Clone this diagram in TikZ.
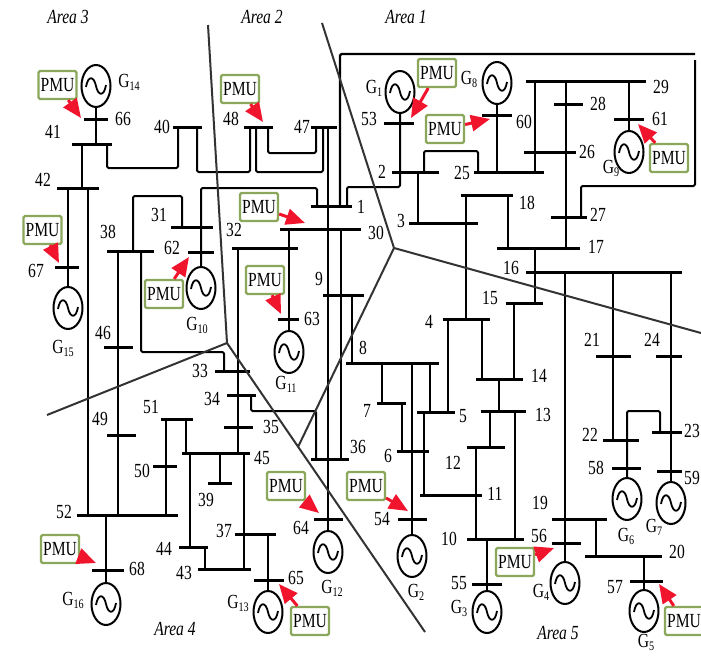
\documentclass[tikz,border=0pt]{standalone}
\usepackage{fontspec}
\setmainfont[FakeStretch=0.78]{Liberation Serif}
\usetikzlibrary{arrows.meta,shapes.geometric}
\definecolor{pmuGreen}{HTML}{8BA75B}
\definecolor{pmuRed}{HTML}{F0142D}
\definecolor{areaGray}{HTML}{333333}
\tikzset{
  bus/.style={fill=black, inner sep=0pt, minimum height=3pt},
  tie/.style={line width=2pt, rounded corners=1.5pt, line join=round},
  area/.style={line width=2pt, draw=areaGray},
  gen/.style={ellipse, draw, line width=2pt, fill=white, inner sep=0pt,
              minimum width=29pt, minimum height=42pt,
              path picture={\draw[line width=1.8pt, shift={(path picture bounding box.center)}]
                (-10,1) .. controls (-8,-11) and (-2,-10) .. (0,0)
                .. controls (2,10) and (8,11) .. (10,-1);}},
  pmu/.style={draw=pmuGreen, line width=2.2pt, rounded corners=1.5pt, fill=white,
              minimum width=38pt, minimum height=28pt, inner sep=0pt, lbl},
  pmuarrow/.style={draw=pmuRed, line width=3pt,
                   -{Triangle[length=19pt, width=16pt, fill=pmuRed]}},
  lbl/.style={font=\fontsize{20}{22}\selectfont, inner sep=0pt},
  arealbl/.style={font=\fontsize{20}{22}\selectfont\itshape, inner sep=0pt},
}
\newcommand{\gname}[1]{G\raisebox{-3pt}{\fontsize{13}{13}\selectfont #1}}

\begin{document}
\begin{tikzpicture}[x=1pt, y=-1pt]
\useasboundingbox (0,0) rectangle (701,656);

%% ── the buses ─────────────────────────────────────────────────────────────
\foreach \n/\xl/\xr/\yb in {
  1/311/352/206, 2/392/439/172, 3/409/478/223, 4/443/490/319, 5/417/455/412,
  6/397/429/451, 7/377/406/403, 8/346/439/363, 9/323/364/295, 10/467/524/539,
  11/420/482/495, 12/467/505/447, 13/481/526/411, 14/476/523/379, 15/506/543/303,
  16/526/682/272, 17/497/580/248, 18/461/513/195, 19/552/607/519, 20/585/662/556,
  21/596/631/356, 22/603/639/440, 23/652/682/432, 24/656/682/356, 25/474/544/172,
  26/524/576/152, 27/551/587/217, 28/554/583/104, 29/526/646/81, 30/280/361/229,
  31/171/213/227, 32/232/298/248, 33/215/250/371, 34/227/256/395, 35/224/253/427,
  36/311/349/459, 37/235/276/534, 38/107/154/251, 39/208/232/483, 40/173/202/127,
  41/72/112/144, 42/57/99/188, 43/198/251/569, 44/179/208/547, 45/182/250/453,
  46/104/133/347, 47/311/337/127, 48/244/273/127, 49/107/136/435, 50/153/177/466,
  51/161/193/419, 52/77/178/515, 53/384/414/123, 54/398/427/519, 55/472/502/584,
  56/552/581/543, 57/630/663/581, 58/612/641/468, 59/657/682/471, 60/482/512/115,
  61/614/644/119, 62/188/214/252, 63/278/299/319, 64/314/343/519, 65/254/284/580,
  66/84/108/119, 67/55/79/267, 68/92/124/570}
  \node[bus, minimum width={(\xr-\xl)*1pt}] (b\n) at ({(\xl+\xr)/2},\yb) {};

%% ── the generators ────────────────────────────────────────────────────────
\foreach \n/\x/\y in {
  1/400/92, 2/412/556, 3/487/612, 4/565/583, 5/644/611, 6/627/499, 7/671/503,
  8/497/83, 9/629/152, 10/201/288, 11/289/352, 12/328/552, 13/268/612,
  14/96/86, 15/68/308, 16/106/604}
  \node[gen] (g\n) at (\x,\y) {};

%% ── straight ties: from bus, to bus, at x ─────────────────────────────────
\foreach \a/\b/\x in {
  41/42/82, 42/52/88, 38/52/118, 30/36/341, 9/8/352, 32/45/238, 2/3/418,
  25/29/535, 29/17/566, 18/4/466, 18/17/508, 17/15/535, 16/22/613, 15/14/514,
  4/14/482, 4/5/448, 14/13/499, 13/12/490, 13/10/515, 12/10/476, 5/11/424,
  8/5/430, 8/7/382, 7/6/402, 19/20/596, 51/52/166, 51/45/186, 45/44/190,
  45/39/220, 45/43/244, 44/43/205}
  \draw[tie] (\x,0 |- b\a) -- (\x,0 |- b\b);

%% ── elbows: from bus at x, turning at y, to bus at x ──────────────────────
\foreach \a/\xa/\ym/\xb/\b in {
  41/107/168/178/40, 40/197/172/250/48, 48/268/153/316/47, 48/256/172/323/47,
  31/182/196/133/38, 38/141/352/224/33, 34/251/411/316/36, 2/424/151/478/25}
  \draw[tie] (\xa,0 |- b\a) |- (\xb,\ym) -- (\xb,0 |- b\b);

%% ── generators down to their buses ────────────────────────────────────────
\foreach \g/\b in {14/41, 8/25}
  \draw[tie] (g\g.south) -- (g\g.south |- b\b);
\foreach \g/\b in {15/42, 11/30, 9/29, 12/47, 13/37, 16/52, 2/8, 3/10, 4/16, 5/20, 7/16}
  \draw[tie] (g\g.north) -- (g\g.north |- b\b);
\draw[tie] (317,0 |- b1) |- (201,188) -- (g10.north);
\draw[tie] (347,0 |- b1) |- (400,187) -- (g1.south);
\draw[tie] (660,0 |- b23) |- (627,411) -- (g6.north);

%% the long loop over area 1
\coordinate (loopA) at (340,54);
\coordinate (loopB) at (695,54);
\coordinate (loopC) at (695,60);
\draw[tie, line width=2.4pt] (340,0 |- b1) -- (loopA) -- (loopB);
\draw[tie] (loopC) |- (581,186) -- (581,0 |- b27);

%% ── area borders ──────────────────────────────────────────────────────────
\coordinate (west) at (227,343);
\coordinate (east) at (394,248);
\draw[area] (208,25) -- (west) -- (47,415);
\draw[area] (west) -- (425,632);
\draw[area] (322,23) -- (east) -- (701,333);
\draw[area] (east) -- (298,447);

%% ── PMUs and their arrows ─────────────────────────────────────────────────
\foreach \n/\x/\y/\tx/\ty in {
  14/57.5/85/81/118, 48/240/89/263/122, 30/259/207/305/223, 67/42.5/230/59/263,
  62/164/294/189/257, 63/265/280/281/314, 1/437/73/411/118, 8/445/129/490/119,
  9/669/158/638/124, 64/286/486/319/513, 68/60/549/96/563, 65/310/621/279/584,
  54/366/486/408/511, 56/515/562/554/548, 57/684/621/659/584}{
  \node[pmu] (pmu\n) at (\x,\y) {PMU};
  \coordinate (tip\n) at (\tx,\ty);
  \draw[pmuarrow] (pmu\n) -- (tip\n);
}

%% ── bus numbers ───────────────────────────────────────────────────────────
\foreach \t/\x/\y in {
  66/123/119, 41/53/132, 42/43/180, 67/36/271, 40/162/127, 48/231/119, 47/302/127,
  31/159/215, 62/172/248, 38/108/232, 32/234/230, 63/312/319, 9/319/279, 46/103/333,
  1/361/207, 30/376/233, 53/369/119, 2/382/172, 25/462/173, 3/401/221, 60/524/122,
  29/661/87, 28/598/104, 61/660/119, 26/587/152, 18/527/203, 27/598/215, 17/596/247,
  16/511/268, 15/490/298, 4/429/322, 8/363/348, 14/539/376, 5/463/416, 13/543/415,
  7/367/411, 6/388/456, 12/453/463, 11/495/494, 36/358/447, 54/382/519, 10/449/539,
  55/459/583, 19/540/503, 56/539/536, 20/677/552, 57/615/587, 21/592/340, 24/652/340,
  22/590/435, 23/692/431, 58/596/468, 59/692/478, 33/200/371, 34/212/399, 35/271/427,
  45/262/458, 51/151/407, 49/100/419, 50/142/471, 39/206/500, 52/64/512, 37/224/531,
  44/164/549, 43/184/573, 65/296/578, 64/301/528, 68/137/569}
  \node[lbl] (n\t) at (\x,\y) {\t};

%% ── generator names ───────────────────────────────────────────────────────
\foreach \t/\x/\y in {
  14/129/82, 15/63/348, 10/197/325, 11/286/384, 1/374/88, 8/469/79, 9/611/168,
  12/332/588, 13/238/603, 16/73/600, 2/416/592, 3/459/608, 4/541/592, 5/646/642,
  6/626/536, 7/654/527}
  \node[lbl] (gl\t) at (\x,\y) {\gname{\t}};

%% ── area names ────────────────────────────────────────────────────────────
\foreach \t/\x/\y in {3/68/17, 2/262/17, 1/406/17, 4/175/629, 5/558/633}
  \node[arealbl] (area\t) at (\x,\y) {Area \t};

\end{tikzpicture}
\end{document}
